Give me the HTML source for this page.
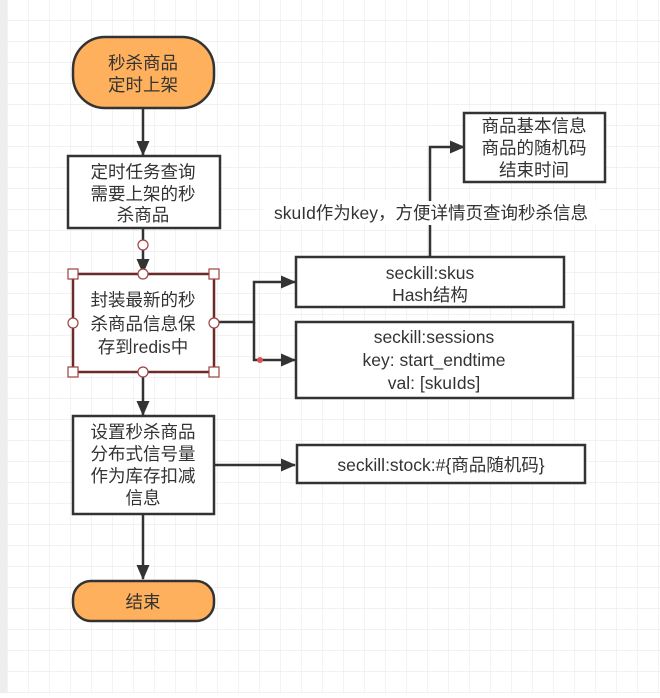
<!DOCTYPE html>
<html><head><meta charset="utf-8"><style>
html,body{margin:0;padding:0;background:#fff}
svg text{font-family:"Liberation Sans","Noto Sans CJK SC",sans-serif;font-size:17.5px;fill:#333;text-anchor:middle}
</style></head><body>
<svg width="660" height="693" xmlns="http://www.w3.org/2000/svg">
<defs>
<pattern id="g" x="7" y="-1" width="21" height="21" patternUnits="userSpaceOnUse">
<path d="M0 0H21M0 0V21" stroke="#ebebeb" stroke-width="1.2" fill="none"/>
</pattern>
<marker id="a" markerWidth="15" markerHeight="14" refX="14" refY="6.5" orient="auto" markerUnits="userSpaceOnUse">
<path d="M0 0L15 6.5L0 13Z" fill="#333"/>
</marker>
</defs>
<rect width="660" height="693" fill="url(#g)"/>
<rect x="0" y="0" width="7" height="693" fill="#eeeeee"/>
<g stroke="#333" stroke-width="2.5" fill="none">
<path d="M143 108V155" marker-end="url(#a)"/>
<path d="M143 228V273" marker-end="url(#a)"/>
<path d="M143 372V415" marker-end="url(#a)"/>
<path d="M143 514V579" marker-end="url(#a)"/>
<path d="M214 322H254V282H295" marker-end="url(#a)"/>
<path d="M254 322V360H295" marker-end="url(#a)"/>
<path d="M214 465H295" marker-end="url(#a)"/>
<path d="M430 257V147H464" marker-end="url(#a)"/>
</g>
<rect x="263" y="201" width="336" height="24" fill="#fff"/>
<text x="431" y="219">skuId作为key，方便详情页查询秒杀信息</text>
<g stroke="#333" stroke-width="2.5" fill="#fff">
<rect x="73" y="37" width="141" height="71" rx="32" fill="#ffb05c"/>
<rect x="68" y="156" width="152" height="72"/>
<rect x="73" y="274" width="141" height="98" stroke="#6b2b2b"/>
<rect x="296" y="257" width="268" height="50"/>
<rect x="296" y="322" width="277" height="76"/>
<rect x="464" y="113" width="141" height="69"/>
<rect x="73" y="416" width="141" height="98"/>
<rect x="297" y="445" width="288" height="38"/>
<rect x="73" y="581" width="141" height="40" rx="18" fill="#ffb05c"/>
</g>
<g fill="#fff" stroke="#a04040" stroke-width="1.2">
<circle cx="143" cy="245" r="5"/>
<circle cx="143" cy="274" r="5"/><circle cx="143" cy="372" r="5"/>
<circle cx="73" cy="323" r="5"/><circle cx="214" cy="323" r="5"/>
<rect x="68" y="269" width="10" height="10"/><rect x="209" y="269" width="10" height="10"/>
<rect x="68" y="367" width="10" height="10"/><rect x="209" y="367" width="10" height="10"/>
</g>
<circle cx="260" cy="360" r="3" fill="#e05050"/>
<text x="143" y="69">秒杀商品</text><text x="143" y="91">定时上架</text>
<text x="143" y="178">定时任务查询</text><text x="143" y="200">需要上架的秒</text><text x="143" y="221">杀商品</text>
<text x="143" y="306">封装最新的秒</text><text x="143" y="330">杀商品信息保</text><text x="143" y="353">存到redis中</text>
<text x="430" y="279">seckill:skus</text><text x="430" y="301">Hash结构</text>
<text x="434" y="343">seckill:sessions</text><text x="434" y="366">key: start_endtime</text><text x="434" y="389">val:  [skuIds]</text>
<text x="534" y="132">商品基本信息</text><text x="534" y="154">商品的随机码</text><text x="534" y="176">结束时间</text>
<text x="143" y="438">设置秒杀商品</text><text x="143" y="460">分布式信号量</text><text x="143" y="482">作为库存扣减</text><text x="143" y="504">信息</text>
<text x="441" y="471">seckill:stock:#{商品随机码}</text>
<text x="143" y="608">结束</text>
</svg>
</body></html>
